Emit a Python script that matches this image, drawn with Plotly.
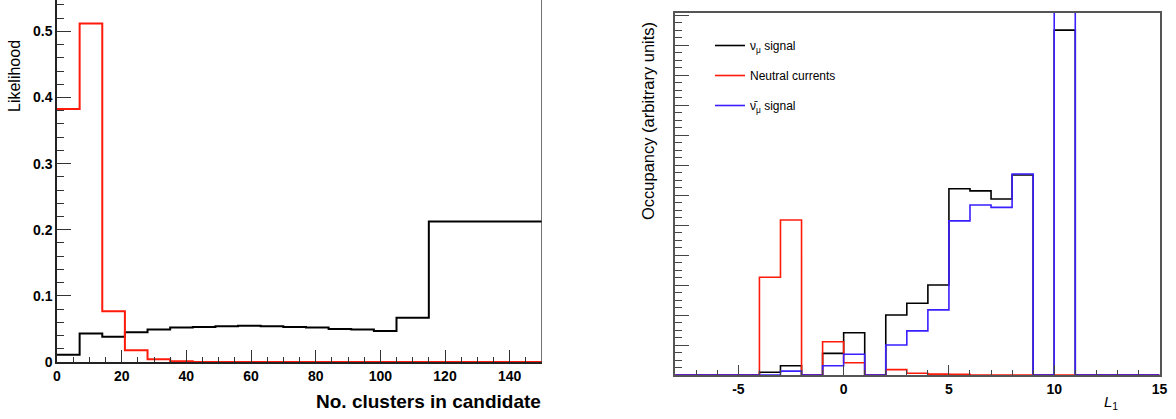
import plotly.graph_objects as go

# ---------------- Left panel data ----------------
clu_edges = [0, 7, 14, 21, 28, 35, 42, 49, 56, 63, 70, 77, 84, 91, 98, 105, 115, 150]
clu_signal = [0.011, 0.043, 0.038, 0.045, 0.049, 0.052, 0.053, 0.054, 0.055, 0.054,
              0.053, 0.052, 0.050, 0.049, 0.047, 0.067, 0.2125]
clu_nc = [0.3825, 0.512, 0.0767, 0.0177, 0.004, 0.001, 0.0, 0.0, 0.0, 0.0,
          0.0, 0.0, 0.0, 0.0, 0.0, 0.0, 0.0]

# ---------------- Right panel data ----------------
l1_edges = list(range(-8, 16))
l1_numu = [0, 0, 0, 0, 0.09, 0.31, 0, 0.72, 1.41, 0, 2.0, 2.39, 3.0, 6.21, 6.14, 5.87, 6.67, 0, 11.5, 0, 0, 0, 0]
l1_nc = [0, 0, 0, 0, 3.26, 5.17, 0, 1.11, 0.41, 0, 0.18, 0.06, 0.03, 0.02, 0, 0, 0, 0, 0, 0, 0, 0, 0]
l1_numubar = [0, 0, 0, 0, 0.0, 0.13, 0, 0.31, 0.69, 0, 1.0, 1.47, 2.17, 5.14, 5.67, 5.59, 6.7, 0, 14.0, 0, 0, 0, 0]

legend_names = ["ν<sub>μ</sub> signal", "Neutral currents", "ν̄<sub>μ</sub> signal"]
left_ticks = [0, 20, 40, 60, 80, 100, 120, 140]
left_yticks = [0, 0.1, 0.2, 0.3, 0.4, 0.5]
right_ticks = [-5, 0, 5, 10, 15]

W, H = 1176, 419
def px(x):
    return x / W
def py(y):
    return 1 - y / H

RED = "#ff1a0a"
BLACK = "#000000"
BLUE = "#3a1fff"

fig = go.Figure()

def step(edges, vals, color, width, xaxis, yaxis, name=None, show=False, group=None):
    fig.add_trace(go.Scatter(
        x=edges, y=list(vals) + [vals[-1]], mode="lines",
        line=dict(color=color, width=width, shape="hv"),
        xaxis=xaxis, yaxis=yaxis, name=name, showlegend=show,
        legendgroup=group, cliponaxis=True, hoverinfo="skip"))

step(clu_edges, clu_signal, BLACK, 2, "x", "y")
step(clu_edges, clu_nc, RED, 2, "x", "y")

step(l1_edges, l1_numu, BLACK, 1.6, "x2", "y2", legend_names[0], True, "a")
step(l1_edges, l1_nc, RED, 1.6, "x2", "y2", legend_names[1], True, "b")
step(l1_edges, l1_numubar, BLUE, 1.6, "x2", "y2", legend_names[2], True, "c")

tickfont = dict(family="Liberation Sans, Arial, sans-serif", size=14, color="black", weight="bold")

fig.update_layout(
    width=W, height=H,
    margin=dict(l=0, r=0, t=0, b=0, autoexpand=False),
    paper_bgcolor="white", plot_bgcolor="white",
    font=dict(family="Liberation Sans, Arial, sans-serif", color="black"),
    xaxis=dict(domain=[px(57), px(542)], range=[0, 150], tickvals=left_ticks,
               ticktext=[str(v) for v in left_ticks],
               ticks="inside", ticklen=12, tickwidth=1, tickcolor="#333",
               minor=dict(dtick=5, ticks="inside", ticklen=5, tickcolor="#333"),
               showgrid=False, zeroline=False, showline=True, linecolor="#222", linewidth=1.5,
               tickfont=tickfont, anchor="y", automargin=False),
    yaxis=dict(domain=[1 - 362 / H, 1], range=[0, 0.5474], tickvals=left_yticks,
               ticktext=["0", "0.1", "0.2", "0.3", "0.4", "0.5"],
               ticks="inside", ticklen=14, tickwidth=1, tickcolor="#333",
               minor=dict(dtick=0.02, ticks="inside", ticklen=7, tickcolor="#333"),
               showgrid=False, zeroline=False, showline=True, linecolor="#222", linewidth=1.5,
               tickfont=tickfont, anchor="x", automargin=False),
    xaxis2=dict(domain=[px(675.2), px(1159.5)], range=[-8, 15], tickvals=right_ticks,
                ticktext=["-5", "0", "5", "10", "15"],
                ticks="inside", ticklen=10, tickwidth=1, tickcolor="#444",
                minor=dict(dtick=1, ticks="inside", ticklen=5, tickcolor="#444"),
                showgrid=False, zeroline=False, showline=True, mirror=True,
                linecolor="#555", linewidth=1.5,
                tickfont=tickfont, anchor="y2", automargin=False),
    yaxis2=dict(domain=[1 - 375 / H, 1 - 12.7 / H], range=[0, 12.08], dtick=1,
                showticklabels=False,
                ticks="inside", ticklen=14, tickwidth=1, tickcolor="#444",
                minor=dict(dtick=0.25, ticks="inside", ticklen=7, tickcolor="#444"),
                showgrid=False, zeroline=False, showline=True, mirror=True,
                linecolor="#555", linewidth=1.5, anchor="x2", automargin=False),
    legend=dict(x=px(710), y=py(31), xanchor="left", yanchor="top",
                bgcolor="rgba(0,0,0,0)", font=dict(size=12, color="black"),
                tracegroupgap=11, itemwidth=30),
    showlegend=True,
)

# right border of left panel (vertical line at x = 150)
fig.add_shape(type="line", xref="x", yref="paper", x0=150, x1=150, y0=1 - 362 / H, y1=1,
              line=dict(color="#444", width=1.5))

annotations = [
    dict(text="Likelihood", x=px(14), y=py(38), xref="paper", yref="paper",
         xanchor="center", yanchor="top", textangle=-90, showarrow=False,
         font=dict(size=16, color="black")),
    dict(text="<b>No. clusters in candidate</b>", x=px(543), y=py(401), xref="paper", yref="paper",
         xanchor="right", yanchor="middle", showarrow=False, font=dict(size=19, color="black")),
    dict(text="Occupancy (arbitrary units)", x=px(648), y=py(20), xref="paper", yref="paper",
         xanchor="center", yanchor="top", textangle=-90, showarrow=False,
         font=dict(size=16.5, color="black")),
    dict(text="<i>L</i><sub>1</sub>", x=px(1102), y=py(402), xref="paper", yref="paper",
         xanchor="left", yanchor="middle", showarrow=False, font=dict(size=15, color="black")),
]
fig.update_layout(annotations=annotations)

fig.write_html("out.html", config={"displayModeBar": False},
               post_script="document.body.style.margin='0';")
